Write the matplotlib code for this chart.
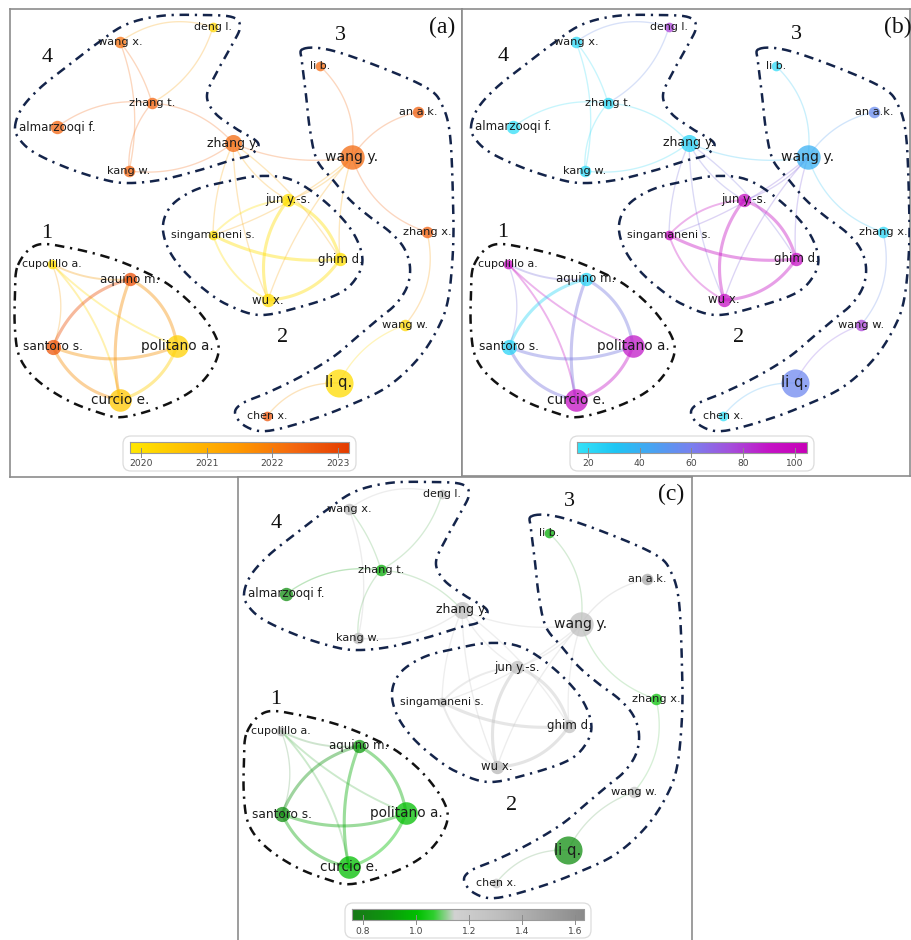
import numpy as np
import matplotlib
matplotlib.use('Agg')
import matplotlib.pyplot as plt
from matplotlib.colors import LinearSegmentedColormap, Normalize, to_rgba
from matplotlib.patches import FancyBboxPatch

#--------------------------------
# CO-AUTHORSHIP MAP (VOSviewer export)
#--------------------------------

authors = ['deng l.', 'wang x.', 'zhang t.', 'almarzooqi f.', 'kang w.', 'zhang y.',
           'li b.', 'an a.k.', 'wang y.', 'zhang x.', 'wang w.', 'li q.', 'chen x.',
           'jun y.-s.', 'singamaneni s.', 'ghim d.', 'wu x.',
           'cupolillo a.', 'aquino m.', 'santoro s.', 'politano a.', 'curcio e.']

# map coordinates of each author (screen units of the map)
map_x = [213, 120, 152, 57, 129, 233, 320, 418, 352, 427, 405, 339, 267,
         288, 213, 340, 268, 52, 130, 53, 177, 120]
map_y = [27, 42, 103, 127, 171, 143, 66, 112, 157, 232, 325, 383, 416,
         200, 235, 259, 300, 264, 279, 347, 346, 400]

documents = [2, 3, 3, 4, 3, 6, 2, 3, 10, 3, 3, 12, 2,
             4, 2, 4, 4, 2, 4, 5, 9, 9]

avg_pub_year = [2020.2, 2022.2, 2022.4, 2022.4, 2022.4, 2022.3, 2022.3, 2022.5, 2022.3,
                2022.5, 2020.2, 2020.1, 2022.7, 2020.0, 2020.0, 2020.0, 2020.1,
                2020.0, 2022.8, 2022.7, 2020.3, 2020.5]

avg_citations = [78, 20, 20, 18, 20, 24, 19, 55, 40, 22, 78, 57, 18,
                 95, 97, 92, 92, 97, 22, 24, 88, 92]

avg_norm_citations = [1.30, 1.32, 0.95, 0.85, 1.35, 1.30, 0.95, 1.45, 1.30, 1.02, 1.25,
                      0.85, 1.30, 1.30, 1.30, 1.28, 1.35, 1.35, 0.90, 0.85, 1.00, 1.00]

# co-authorship links: (author, author, link strength)
links = [('wang x.', 'deng l.', 1), ('zhang t.', 'deng l.', 1), ('wang x.', 'zhang t.', 1),
         ('wang x.', 'kang w.', 1), ('zhang t.', 'kang w.', 1), ('almarzooqi f.', 'zhang t.', 1),
         ('zhang t.', 'zhang y.', 1), ('kang w.', 'zhang y.', 1), ('zhang y.', 'wang y.', 1),
         ('zhang y.', 'jun y.-s.', 1), ('zhang y.', 'singamaneni s.', 1), ('zhang y.', 'ghim d.', 1),
         ('zhang y.', 'wu x.', 1), ('wang y.', 'li b.', 1), ('wang y.', 'an a.k.', 1),
         ('wang y.', 'zhang x.', 1), ('wang y.', 'jun y.-s.', 1), ('wang y.', 'singamaneni s.', 1),
         ('wang y.', 'ghim d.', 1), ('wang y.', 'wu x.', 1), ('zhang x.', 'wang w.', 1),
         ('wang w.', 'li q.', 1), ('li q.', 'chen x.', 1),
         ('jun y.-s.', 'ghim d.', 4), ('jun y.-s.', 'wu x.', 4), ('wu x.', 'ghim d.', 4),
         ('singamaneni s.', 'ghim d.', 4), ('singamaneni s.', 'wu x.', 2), ('singamaneni s.', 'jun y.-s.', 2),
         ('cupolillo a.', 'aquino m.', 2), ('cupolillo a.', 'santoro s.', 1), ('cupolillo a.', 'politano a.', 2),
         ('cupolillo a.', 'curcio e.', 2), ('aquino m.', 'santoro s.', 4), ('aquino m.', 'politano a.', 4),
         ('aquino m.', 'curcio e.', 4), ('santoro s.', 'politano a.', 4), ('santoro s.', 'curcio e.', 4),
         ('politano a.', 'curcio e.', 4)]
# curvature of each link (positive bends to the left of the direction of travel)
link_bend = [0.25, -0.2, 0.1, 0.15, -0.2, 0.2, 0.2, -0.2, -0.15,
             -0.15, -0.1, 0.1, -0.1, -0.25, 0.2, -0.25, 0.15, 0.1,
             -0.1, -0.1, 0.25, -0.2, -0.25,
             0.25, -0.25, -0.25, -0.15, -0.2, 0.2,
             -0.15, 0.2, -0.1, 0.15, -0.25, 0.25, -0.15, -0.2, -0.25, 0.25]

# cluster outlines drawn by hand on the map
cluster_ids = ['1', '2', '3', '4']
hull_1 = [(18, 265), (37, 245), (70, 248), (110, 258), (145, 272), (172, 287), (200, 313),
          (218, 343), (213, 367), (193, 390), (160, 407), (123, 417), (100, 413), (67, 400),
          (37, 380), (20, 358), (15, 330), (15, 295)]
hull_2 = [(163, 225), (172, 205), (195, 190), (225, 182), (260, 176), (292, 180), (323, 200),
          (350, 228), (362, 255), (358, 275), (340, 293), (300, 307), (260, 315), (228, 305),
          (205, 290), (183, 270), (168, 248)]
hull_3 = [(303, 49), (330, 50), (380, 67), (427, 88), (442, 105), (450, 135), (453, 200),
          (453, 250), (448, 300), (437, 330), (417, 360), (387, 387), (350, 405), (310, 420),
          (267, 431), (245, 426), (235, 413), (243, 403), (267, 393), (300, 377), (333, 357),
          (357, 337), (377, 320), (395, 305), (407, 287), (410, 267), (404, 248), (390, 232),
          (370, 217), (350, 200), (333, 180), (317, 160), (310, 130), (306, 95), (302, 62)]
hull_4 = [(15, 127), (22, 108), (40, 88), (65, 68), (95, 45), (125, 25), (160, 16), (200, 15),
          (232, 17), (240, 27), (232, 45), (218, 70), (207, 95), (215, 113), (235, 128),
          (258, 143), (250, 155), (232, 160), (200, 170), (160, 180), (125, 183), (98, 178),
          (65, 167), (35, 153), (20, 140)]
cluster_label_x = [47, 283, 340, 47]
cluster_label_y = [233, 338, 35, 57]

# colour scales
year_colors = ['#ffe800', '#ffc000', '#ff9800', '#f46810', '#e43c00']
cit_colors = ['#35e2f8', '#1ec6f4', '#4aa2f2', '#7a80ef', '#a450dc', '#c414c6', '#c800b8']
norm_colors = [(0.0, '#187818'), (0.16, '#0d9a0d'), (0.28, '#00c000'), (0.35, '#2fcf2f'),
               (0.44, '#d2d2d2'), (0.62, '#c0c0c0'), (1.0, '#8a8a8a')]
year_ticks = [2020, 2021, 2022, 2023]
cit_ticks = [20, 40, 60, 80, 100]
norm_ticks = [0.8, 1.0, 1.2, 1.4, 1.6]

idx = {a: i for i, a in enumerate(authors)}


def closed_spline(pts, n=14):
    P = np.array(pts, dtype=float)
    m = len(P)
    t = np.linspace(0, 1, n, endpoint=False)[:, None]
    out = []
    for i in range(m):
        p0, p1, p2, p3 = P[i - 1], P[i], P[(i + 1) % m], P[(i + 2) % m]
        seg = 0.5 * (2 * p1 + (-p0 + p2) * t + (2 * p0 - 5 * p1 + 4 * p2 - p3) * t ** 2
                     + (-p0 + 3 * p1 - 3 * p2 + p3) * t ** 3)
        out.append(seg)
    out.append(out[0][:1])
    out = np.vstack(out)
    return out[:, 0], out[:, 1]


def draw_map(ax, values, cmap, vmin, vmax, ticks, tick_fmt, letter, bar_x):
    norm = Normalize(vmin, vmax)
    node_col = [np.array(to_rgba(cmap(norm(v)))) for v in values]

    # links as quadratic curves
    for (a, b, w), bend in zip(links, link_bend):
        i, j = idx[a], idx[b]
        p0 = np.array([map_x[i], map_y[i]], float)
        p2 = np.array([map_x[j], map_y[j]], float)
        d = p2 - p0
        nrm = np.array([d[1], -d[0]])
        p1 = (p0 + p2) / 2 + bend * nrm
        t = np.linspace(0, 1, 40)[:, None]
        curve = (1 - t) ** 2 * p0 + 2 * (1 - t) * t * p1 + t ** 2 * p2
        c = (node_col[i] + node_col[j]) / 2
        ax.plot(curve[:, 0], curve[:, 1], color=c[:3], alpha=0.22 + 0.045 * w,
                lw=0.55 + 0.42 * w, solid_capstyle='round', zorder=2)

    # cluster outlines
    for cid, hull in zip(cluster_ids, [hull_1, hull_2, hull_3, hull_4]):
        hx, hy = closed_spline(hull)
        col = '#111111' if cid == '1' else '#14244a'
        ax.plot(hx, hy, color=col, lw=1.8, linestyle=(0, (3.8, 2.3, 0.9, 2.3)), zorder=3)
    for cid, lx, ly in zip(cluster_ids, cluster_label_x, cluster_label_y):
        ax.text(lx, ly, cid, fontsize=16, family='Liberation Serif', ha='center', va='center',
                color='#111111', zorder=6)

    # nodes and labels
    for k, name in enumerate(authors):
        r = 3.0 + 0.92 * documents[k]
        ax.scatter(map_x[k], map_y[k], s=(1.44 * r) ** 2, color=node_col[k], alpha=0.75,
                   linewidths=0, zorder=4)
        ax.text(map_x[k], map_y[k], name, fontsize=7.4 + 0.27 * documents[k], ha='center',
                va='center', color='#1c1c1c', zorder=5)

    ax.text(442, 27, letter, fontsize=17, family='Liberation Serif', ha='center', va='center',
            color='#111111', zorder=6)

    # colour bar
    x0, x1 = bar_x
    box = FancyBboxPatch((x0 - 7, 436), (x1 - x0) + 14, 35,
                         boxstyle='round,pad=0,rounding_size=8', facecolor='white',
                         edgecolor='#dcdcdc', lw=0.9, zorder=6)
    ax.add_patch(box)
    grad = np.linspace(vmin, vmax, 256)[None, :]
    ax.imshow(grad, cmap=cmap, norm=norm, extent=(x0, x1, 453, 442), aspect='auto', zorder=7)
    ax.plot([x0, x1, x1, x0, x0], [442, 442, 453, 453, 442], color='#9a9a9a', lw=0.8, zorder=8)
    for tv in ticks:
        tx = x0 + (tv - vmin) / (vmax - vmin) * (x1 - x0)
        ax.plot([tx, tx], [448, 457], color='#8a8a8a', lw=0.7, zorder=8)
        ax.text(tx, 464, tick_fmt(tv), fontsize=6.6, ha='center', va='center',
                color='#444444', zorder=8)


fig = plt.figure(figsize=(9.12, 9.40), dpi=100)
W, H = 912.0, 940.0

# panel frames in figure pixels (left, top, right, bottom) and map offsets
panels = [((10, 9, 462, 477), (0, 0)),
          ((462, 9, 910, 476), (456, 0)),
          ((238, 477, 692, 940), (229, 467))]

year_cmap = LinearSegmentedColormap.from_list('year', year_colors)
cit_cmap = LinearSegmentedColormap.from_list('cit', cit_colors)
norm_cmap = LinearSegmentedColormap.from_list('ncit', norm_colors)

specs = [(avg_pub_year, year_cmap, 2019.83, 2023.17, year_ticks, lambda v: '%d' % v, '(a)', (130, 349)),
         (avg_citations, cit_cmap, 15.8, 104.6, cit_ticks, lambda v: '%d' % v, '(b)', (121, 351)),
         (avg_norm_citations, norm_cmap, 0.758, 1.635, norm_ticks, lambda v: '%.1f' % v, '(c)', (123, 355))]

for ((l, t, r, b), (dx, dy)), spec in zip(panels, specs):
    ax = fig.add_axes([l / W, 1 - b / H, (r - l) / W, (b - t) / H])
    ax.set_xlim(l - dx, r - dx)
    ax.set_ylim(b - dy, t - dy)
    ax.set_xticks([])
    ax.set_yticks([])
    for s in ax.spines.values():
        s.set_color('#8c8c8c')
        s.set_linewidth(1.2)
    if b >= H:
        ax.spines['bottom'].set_visible(False)
    draw_map(ax, *spec)

fig.savefig('out.png', dpi=100, facecolor='white')
